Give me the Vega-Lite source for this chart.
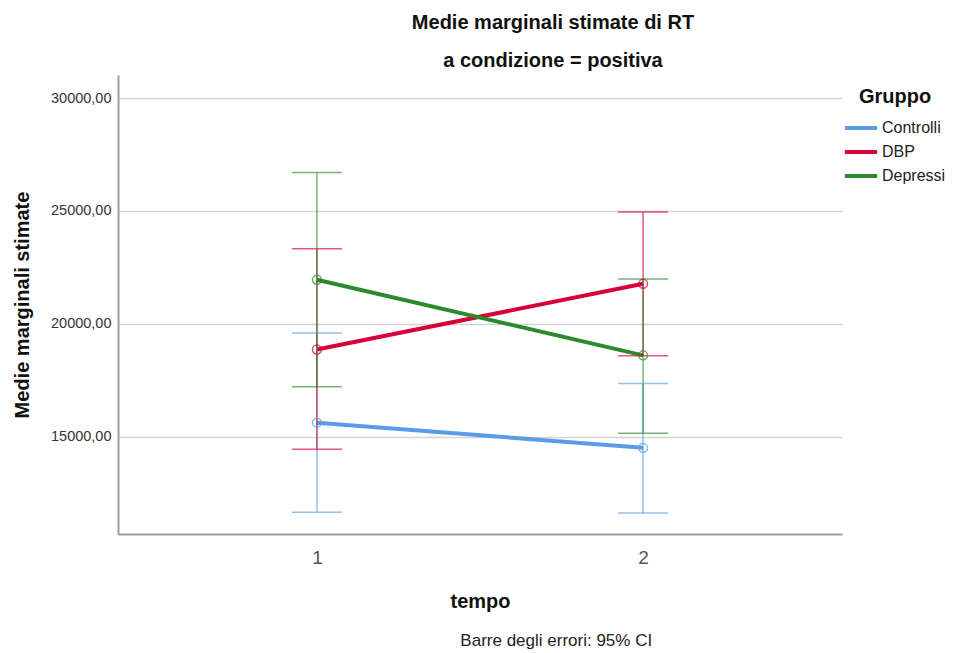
{
  "$schema": "https://vega.github.io/schema/vega-lite/v6.json",
  "background": "white",
  "padding": {"left": 12, "top": 13, "right": 0, "bottom": 0},
  "title": {
    "text": "Barre degli errori: 95% CI",
    "orient": "bottom",
    "anchor": "middle",
    "dx": 77,
    "fontSize": 17,
    "fontWeight": "normal",
    "color": "#222222",
    "offset": 22
  },
  "vconcat": [
    {
      "width": 724,
      "height": 459,
      "title": {
        "text": "Medie marginali stimate di RT",
        "subtitle": "a condizione = positiva",
        "anchor": "middle",
        "dx": 73,
        "fontSize": 20,
        "fontWeight": "bold",
        "color": "#111111",
        "subtitleFontSize": 20,
        "subtitleFontWeight": "bold",
        "subtitleColor": "#111111",
        "subtitlePadding": 18,
        "offset": 4
      },
      "data": {
        "values": [
          {"Gruppo": "Controlli", "tempo": 1, "media": 15630, "inf": 11660, "sup": 19600},
          {"Gruppo": "Controlli", "tempo": 2, "media": 14515, "inf": 11630, "sup": 17360},
          {"Gruppo": "DBP", "tempo": 1, "media": 18870, "inf": 14450, "sup": 23330},
          {"Gruppo": "DBP", "tempo": 2, "media": 21775, "inf": 18590, "sup": 24960},
          {"Gruppo": "Depressi", "tempo": 1, "media": 21955, "inf": 17215, "sup": 26700},
          {"Gruppo": "Depressi", "tempo": 2, "media": 18610, "inf": 15165, "sup": 21985}
        ]
      },
      "encoding": {
        "x": {
          "field": "tempo",
          "type": "ordinal",
          "scale": {"type": "point", "padding": 0.61},
          "axis": {
            "title": "tempo",
            "labelAngle": 0,
            "labelFontSize": 19,
            "labelColor": "#555555",
            "labelPadding": 14,
            "ticks": false,
            "domainColor": "#a0a0a0",
            "domainWidth": 2,
            "titleFontSize": 20,
            "titleFontWeight": "bold",
            "titleColor": "#111111",
            "titlePadding": 24
          }
        },
        "color": {
          "field": "Gruppo",
          "type": "nominal",
          "scale": {
            "domain": ["Controlli", "DBP", "Depressi"],
            "range": ["#5a9be6", "#d7003a", "#2b8a2b"]
          },
          "legend": {
            "title": "Gruppo",
            "orient": "none",
            "legendX": 727,
            "legendY": 12,
            "titleFontSize": 20,
            "titleFontWeight": "bold",
            "titleColor": "#111111",
            "titleAnchor": "middle",
            "titlePadding": 5,
            "labelFontSize": 16,
            "labelColor": "#222222",
            "labelOffset": 5,
            "symbolType": "M-1.15,0H1.15",
            "symbolStrokeWidth": 4,
            "symbolSize": 784,
            "symbolOpacity": 1,
            "rowPadding": 0,
            "padding": 0
          }
        }
      },
      "layer": [
        {
          "mark": {"type": "line", "strokeWidth": 4},
          "encoding": {
            "y": {
              "field": "media",
              "type": "quantitative",
              "scale": {"domain": [10700, 31020], "nice": false, "zero": false},
              "axis": {
                "title": "Medie marginali stimate",
                "values": [15000, 20000, 25000, 30000],
                "labelExpr": "replace(format(datum.value, '.2f'), '.', ',')",
                "grid": true,
                "gridColor": "#d4d4d4",
                "gridWidth": 1.5,
                "ticks": false,
                "domainColor": "#a0a0a0",
                "domainWidth": 2,
                "labelFontSize": 14.5,
                "labelColor": "#333333",
                "labelPadding": 7,
                "titleFontSize": 20,
                "titleFontWeight": "bold",
                "titleColor": "#111111",
                "titlePadding": 18
              }
            }
          }
        },
        {
          "mark": {"type": "rule", "strokeWidth": 1.5, "opacity": 0.65},
          "encoding": {
            "y": {"field": "inf", "type": "quantitative"},
            "y2": {"field": "sup"}
          }
        },
        {
          "mark": {"type": "tick", "orient": "horizontal", "size": 50, "thickness": 1.5, "opacity": 0.65},
          "encoding": {
            "y": {"field": "inf", "type": "quantitative"}
          }
        },
        {
          "mark": {"type": "tick", "orient": "horizontal", "size": 50, "thickness": 1.5, "opacity": 0.65},
          "encoding": {
            "y": {"field": "sup", "type": "quantitative"}
          }
        },
        {
          "mark": {"type": "point", "shape": "circle", "filled": false, "size": 80, "strokeWidth": 1.5, "opacity": 0.7},
          "encoding": {
            "y": {"field": "media", "type": "quantitative"}
          }
        }
      ]
    }
  ],
  "config": {
    "font": "Liberation Sans",
    "view": {"stroke": null}
  }
}
